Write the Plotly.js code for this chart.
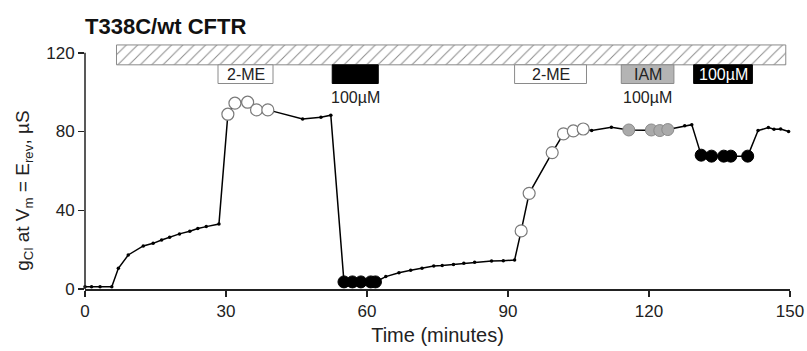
<!DOCTYPE html>
<html>
<head>
<meta charset="utf-8">
<script src="https://cdn.plot.ly/plotly-3.0.1.min.js"></script>
<style>html,body{margin:0;padding:0;background:#fff;}#chart{width:807px;height:351px;}</style>
</head>
<body>
<div id="chart"></div>
<script>
// ---- data ----
const time = [0, 1.4, 3.2, 5.7, 7.1, 9.2, 12.4, 14.5, 16.3, 18.0, 20.1, 22.3, 24.0, 25.8, 28.5,
  30.4, 31.9, 34.6, 36.5, 38.9,
  46.3, 50.2, 52.3,
  55.1, 56.9, 58.7, 60.8, 61.8,
  64.0, 66.8, 69.3, 71.7, 74.2, 76.0, 78.4, 80.6, 82.9, 86.5, 89.0, 91.4,
  92.8, 94.5, 99.4, 101.8, 103.9, 106.0,
  107.8, 112.0,
  115.7, 120.5, 122.3, 124.0,
  127.6, 129.1,
  131.1, 133.3, 135.9, 137.4, 141.0,
  143.2, 145.4, 146.6, 148.0, 149.7];
const gCl = [1.2, 1.2, 1.2, 1.2, 10.5, 17.3, 21.9, 23.2, 24.9, 26.3, 28.0, 29.3, 30.7, 31.7, 33.0,
  88.8, 94.4, 94.9, 91.0, 91.0,
  86.4, 87.3, 88.3,
  3.6, 3.6, 3.6, 3.6, 3.6,
  6.3, 8.3, 9.5, 10.5, 11.7, 11.9, 12.5, 13.1, 13.6, 14.2, 14.4, 14.7,
  29.5, 48.6, 69.3, 78.8, 80.3, 81.3,
  80.5, 82.2,
  80.8, 80.8, 80.5, 81.0,
  82.9, 83.5,
  68.0, 67.5, 67.5, 67.5, 67.5,
  80.5, 82.0, 81.2, 81.3, 80.0];
// condition of each point: d = control, o = 2-ME, b = 100µM MTS, g = IAM
const kind = ['d','d','d','d','d','d','d','d','d','d','d','d','d','d','d',
  'o','o','o','o','o',
  'd','d','d',
  'b','b','b','b','b',
  'd','d','d','d','d','d','d','d','d','d','d','d',
  'o','o','o','o','o','o',
  'd','d',
  'g','g','g','g',
  'd','d',
  'b','b','b','b','b',
  'd','d','d','d','d'];

// treatment periods (minutes)
const hatchStart = 6.7, hatchEnd = 149.1;
const boxStart = [28.3, 52.6, 91.4, 114.1, 129.5];
const boxEnd   = [40.0, 62.4, 106.7, 125.3, 142.0];
const boxAgent = ['2-ME', 'MTS', '2-ME', 'IAM', 'MTS2'];
const boxLabel = ['2-ME', '', '2-ME', 'IAM', '100µM'];
const boxSubLabel = ['', '100µM', '', '100µM', ''];

const xTicks = [0, 30, 60, 90, 120, 150];
const yTicks = [0, 40, 80, 120];

// ---- styles ----
const yMax = 126, yAxisTop = 120;
const boxY0 = 104.4, boxY1 = 113.9, hatchY0 = 113.9, hatchY1 = 124.0, subLabelY = 97.4;
const agentStyle = {
  '2-ME': {fill: '#ffffff', line: '#8a8a8a', text: '#222'},
  'MTS':  {fill: '#000000', line: '#000000', text: '#fff'},
  'IAM':  {fill: '#b4b4b4', line: '#8a8a8a', text: '#222'},
  'MTS2': {fill: '#000000', line: '#000000', text: '#ffffff'}
};
const markerStyle = {
  o: {color: '#ffffff', line: {color: '#7a7a7a', width: 1.2}, size: 12},
  b: {color: '#000000', line: {color: '#000000', width: 1}, size: 12},
  g: {color: '#aaaaaa', line: {color: '#8a8a8a', width: 1}, size: 12}
};

const traces = [];
// hatched bar for the whole experiment
traces.push({
  type: 'bar', orientation: 'h',
  y: [(hatchY0 + hatchY1) / 2], x: [hatchEnd - hatchStart], base: [hatchStart],
  width: [hatchY1 - hatchY0],
  marker: {color: '#ffffff', line: {color: '#8a8a8a', width: 1},
    pattern: {shape: '/', fgcolor: '#8a8a8a', bgcolor: '#ffffff', size: 8, solidity: 0.12}},
  hoverinfo: 'skip', showlegend: false
});
traces.push({
  type: 'scatter', mode: 'lines+markers', x: time, y: gCl,
  line: {color: '#000', width: 1.5},
  marker: {color: '#000', size: 3.5},
  cliponaxis: false, showlegend: false
});
['o', 'g', 'b'].forEach(k => {
  const xs = [], ys = [];
  time.forEach((t, i) => { if (kind[i] === k) { xs.push(t); ys.push(gCl[i]); } });
  traces.push({type: 'scatter', mode: 'markers', x: xs, y: ys,
    marker: markerStyle[k], cliponaxis: false, showlegend: false});
});

const shapes = [{
  type: 'line', xref: 'paper', yref: 'paper', x0: 0, x1: 0, y0: 0, y1: yAxisTop / yMax,
  line: {color: '#222', width: 1.5}
}];
const annotations = [];
boxStart.forEach((s, i) => {
  const st = agentStyle[boxAgent[i]];
  shapes.push({type: 'rect', xref: 'x', yref: 'y', x0: s, x1: boxEnd[i], y0: boxY0, y1: boxY1,
    fillcolor: st.fill, line: {color: st.line, width: 1}, layer: 'above'});
  if (boxLabel[i]) annotations.push({x: (s + boxEnd[i]) / 2, y: (boxY0 + boxY1) / 2, xref: 'x', yref: 'y',
    text: boxLabel[i], showarrow: false, font: {size: 16, color: st.text, family: 'Liberation Sans, Arial, sans-serif'}});
  if (boxSubLabel[i]) annotations.push({x: (s + boxEnd[i]) / 2, y: subLabelY, xref: 'x', yref: 'y',
    text: boxSubLabel[i], showarrow: false, font: {size: 16, color: '#222', family: 'Liberation Sans, Arial, sans-serif'}});
});
annotations.push({
  xref: 'paper', yref: 'paper', x: -0.087, y: 0.395, xanchor: 'center', yanchor: 'middle',
  textangle: -90, showarrow: false,
  text: 'g<sub>Cl</sub> at V<sub>m</sub> = E<sub>rev</sub>, µS',
  font: {size: 19, color: '#222', family: 'Liberation Sans, Arial, sans-serif'}
});

const layout = {
  width: 807, height: 351,
  margin: {l: 85, r: 17, t: 41, b: 62},
  paper_bgcolor: '#fff', plot_bgcolor: '#fff',
  font: {family: 'Liberation Sans, Arial, sans-serif', color: '#222', size: 17},
  title: {text: '<b>T338C/wt CFTR</b>', xref: 'container', yref: 'container',
    x: 85 / 807, xanchor: 'left', y: 1 - 26 / 351, yanchor: 'middle',
    font: {size: 22, color: '#111'}},
  xaxis: {range: [0, 150], tickvals: xTicks, ticks: 'outside', ticklen: 6, tickwidth: 1.5,
    tickcolor: '#222', showline: true, linecolor: '#222', linewidth: 1.5,
    showgrid: false, zeroline: false, fixedrange: true,
    title: {text: 'Time (minutes)', font: {size: 20}, standoff: 8}},
  yaxis: {range: [0, yMax], tickvals: yTicks, ticks: 'outside', ticklen: 6, tickwidth: 1.5,
    tickcolor: '#222', showline: false, showgrid: false, zeroline: false, fixedrange: true},
  shapes: shapes, annotations: annotations,
  showlegend: false, bargap: 0
};
Plotly.newPlot('chart', traces, layout, {displayModeBar: false, staticPlot: true});
</script>
</body>
</html>
